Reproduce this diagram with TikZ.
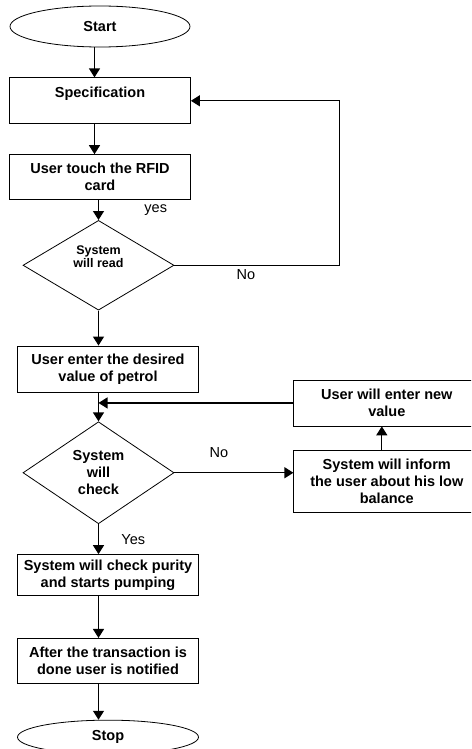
\documentclass[tikz,border=0pt]{standalone}
\usepackage{fontspec}
\setmainfont{Liberation Sans}
\usetikzlibrary{shapes.geometric, arrows.meta, positioning}

\begin{document}
\begin{tikzpicture}[x=1pt, y=1pt, thick, font=\fontsize{14.5}{17}\selectfont\bfseries]
        \tikzstyle{startstop} = [ellipse, minimum width=180pt, minimum height=41pt, text centered, draw=black]
        \tikzstyle{process} = [rectangle, minimum width=181pt, minimum height=46pt, align=center, draw=black]
        \tikzstyle{decision} = [diamond, minimum width=151pt, minimum height=89pt, inner sep=0pt, align=center, draw=black]
        \tikzstyle{arrow} = [line width=1.3pt, -{Triangle[length=9pt, width=11pt]}]
        \tikzstyle{answer} = [font=\fontsize{14.5}{17}\selectfont]

        \useasboundingbox (0,0) rectangle (471,-749);
        \clip (0,0) rectangle (471,-749);

        \node (start) [startstop] at (100,-26.5) {Start};
        \node (spec) [process, below=30pt of start] {Specification\\ \mbox{}};
        \node (rfid) [process, minimum height=45pt, below=30pt of spec] {User touch the RFID\\card};
        \node (read) [decision, font=\fontsize{12.5}{13.5}\selectfont\bfseries, below=20pt of rfid, xshift=-1.5pt] {System\\will read\\[4pt]};

        \node (petrol) [process, below=35pt of read, xshift=9.5pt] {User enter the desired\\value of petrol};
        \node (check) [decision, minimum height=102pt, below=29pt of petrol, xshift=-9.5pt] {System\\will\\check};

        \node (inform) [process, minimum width=186pt, minimum height=62pt, right=119pt of check, yshift=-9pt] {System will inform\\the user about his low\\balance};
        \node (newval) [process, minimum width=186pt, minimum height=46pt, above=24pt of inform] {User will enter new\\value};

        \node (pump) [process, minimum height=41pt, below=30pt of check, xshift=9.5pt] {System will check purity\\and starts pumping};
        \node (notify) [process, minimum height=45pt, below=42pt of pump] {After the transaction is\\done user is notified};
        \node (stop) [startstop, minimum width=181pt, minimum height=34pt, below=36pt of notify] {Stop};

        \draw [arrow] ([xshift=-5.5pt]start.south) -- ([xshift=-5.5pt]spec.north);
        \draw [arrow] ([xshift=-5.5pt]spec.south) -- ([xshift=-5.5pt]rfid.north);
        \draw [arrow] (rfid.south -| read.north) -- node[answer, right, xshift=42pt] {yes} (read.north);
        \draw [arrow] (read.east) -- node[answer, below, xshift=-11pt] {No} ++(165,0) |- (spec.east);
        \draw [arrow] (read.south) -- (read.south |- petrol.north);

        \draw [arrow] (petrol.south -| check.north) -- (check.north);
        \draw [arrow] (check.east) -- node[answer, above, xshift=-15pt, yshift=11pt] {No} (check.east -| inform.west);
        \draw [arrow] ([xshift=-5pt]inform.north) -- ([xshift=-5pt]newval.south);
        \draw [arrow] (newval.west) -- (newval.west -| check.north);

        \draw [arrow] (check.south) -- node[answer, right, xshift=19pt] {Yes} (check.south |- pump.north);
        \draw [arrow] (pump.south -| check.south) -- (notify.north -| check.south);
        \draw [arrow] (notify.south -| check.south) -- (stop.north -| check.south);
    \end{tikzpicture}
\end{document}
